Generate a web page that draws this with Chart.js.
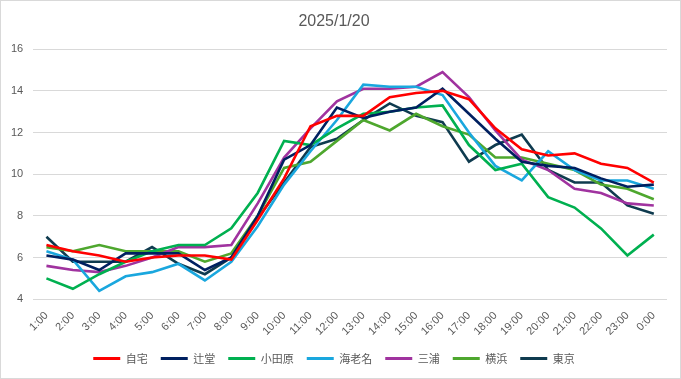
<!DOCTYPE html>
<html>
<head>
<meta charset="utf-8">
<script src="https://cdn.jsdelivr.net/npm/chart.js@4/dist/chart.umd.min.js"></script>
<style>
html,body{margin:0;padding:0;background:#fff;}
#wrap{width:681px;height:379px;position:relative;}
</style>
</head>
<body>
<div id="wrap"><canvas id="c" width="681" height="379"></canvas></div>
<script>
const titleText = "2025/1/20";
const categories = ["1:00","2:00","3:00","4:00","5:00","6:00","7:00","8:00","9:00","10:00","11:00","12:00","13:00","14:00","15:00","16:00","17:00","18:00","19:00","20:00","21:00","22:00","23:00","0:00"];
const seriesNames = ["自宅","辻堂","小田原","海老名","三浦","横浜","東京"];
const jitaku   = [6.6,6.3,6.1,5.8,6.0,6.1,6.1,5.9,7.8,9.8,12.3,12.8,12.8,13.7,13.9,14.0,13.6,12.2,11.2,10.9,11.0,10.5,10.3,9.6];
const tsujido  = [6.1,5.9,5.4,6.2,6.2,6.2,5.4,6.0,8.0,10.7,11.4,13.2,12.7,13.0,13.2,14.1,12.9,11.7,10.6,10.4,10.3,9.8,9.4,9.5];
const odawara  = [5.0,4.5,5.2,5.8,6.3,6.6,6.6,7.4,9.1,11.6,11.4,12.2,12.9,13.0,13.2,13.3,11.4,10.2,10.5,8.9,8.4,7.4,6.1,7.1];
const ebina    = [6.3,5.9,4.4,5.1,5.3,5.7,4.9,5.8,7.5,9.5,11.1,12.6,14.3,14.2,14.2,13.8,12.0,10.4,9.7,11.1,10.2,9.7,9.7,9.3];
const miura    = [5.6,5.4,5.3,5.6,6.0,6.5,6.5,6.6,8.6,10.8,12.2,13.5,14.1,14.1,14.2,14.9,13.7,12.1,10.7,10.2,9.3,9.1,8.6,8.5];
const yokohama = [6.5,6.3,6.6,6.3,6.3,6.3,5.8,6.2,8.0,10.3,10.6,11.6,12.6,12.1,12.9,12.3,11.9,10.8,10.8,10.5,10.2,9.5,9.3,8.8];
const tokyo    = [7.0,5.8,5.8,5.8,6.5,5.7,5.2,6.0,7.9,9.6,11.3,11.7,12.6,13.4,12.8,12.5,10.6,11.4,11.9,10.2,9.6,9.6,8.5,8.1];
const yTicks = [4,6,8,10,12,14,16];

const colors = ["#FF0000","#002060","#00B050","#1AA7DE","#A0339F","#4EA72E","#0F3B4F"];
const values = [jitaku,tsujido,odawara,ebina,miura,yokohama,tokyo];

const borderPlugin = {
  id:'outerBorder',
  afterDraw(chart){
    const ctx = chart.ctx;
    ctx.save();
    ctx.strokeStyle = '#D9D9D9';
    ctx.lineWidth = 1;
    ctx.strokeRect(0.5,0.5,chart.width-1,chart.height-1);
    ctx.restore();
  }
};

new Chart(document.getElementById('c'), {
  type:'line',
  data:{
    labels:categories,
    datasets: seriesNames.map((n,i)=>({
      label:n,
      data:values[i],
      borderColor:colors[i],
      backgroundColor:colors[i],
      borderWidth:2.6,
      pointRadius:0,
      tension:0,
      fill:false
    }))
  },
  options:{
    responsive:false,
    animation:false,
    layout:{padding:{left:1,right:14,top:8,bottom:5}},
    plugins:{
      title:{display:true,text:titleText,color:'#595959',font:{family:'"Liberation Sans", Arial, sans-serif',size:16,weight:'normal'},padding:{top:4,bottom:18}},
      legend:{
        position:'bottom',
        labels:{
          color:'#595959',
          font:{family:'"Noto Sans CJK JP", sans-serif',size:11},
          boxWidth:27,
          boxHeight:3,
          padding:13,
          generateLabels(chart){
            return chart.data.datasets.map((d,i)=>({
              text:d.label,fillStyle:d.borderColor,strokeStyle:d.borderColor,lineWidth:0,datasetIndex:i,fontColor:'#595959'
            }));
          }
        }
      },
      tooltip:{enabled:false}
    },
    scales:{
      x:{
        offset:true,
        grid:{display:false},
        border:{display:false},
        ticks:{color:'#595959',font:{family:'"Liberation Sans", Arial, sans-serif',size:11},maxRotation:45,minRotation:45,autoSkip:false,padding:2}
      },
      y:{
        min:4,max:16,
        afterBuildTicks(axis){axis.ticks = yTicks.map(v=>({value:v}));},
        grid:{color:'#D9D9D9',lineWidth:1,drawTicks:false},
        border:{display:false},
        ticks:{color:'#595959',font:{family:'"Liberation Sans", Arial, sans-serif',size:11},padding:10}
      }
    }
  },
  plugins:[borderPlugin]
});
</script>
</body>
</html>
